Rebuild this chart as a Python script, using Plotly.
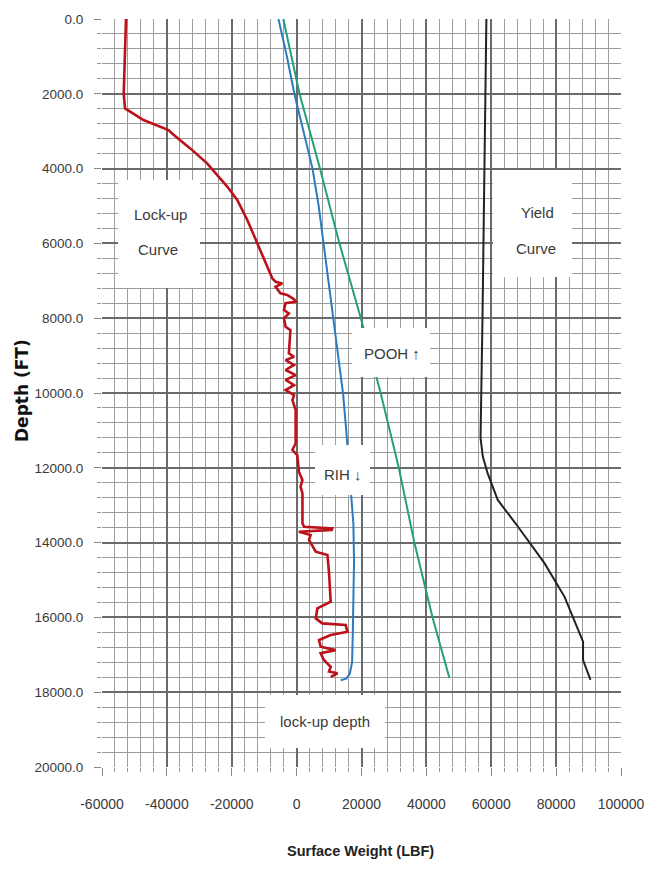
import plotly.graph_objects as go

# ---------------- data ----------------
lock_depth = [0, 1000, 2000, 2390, 2700, 2970, 3060, 3460, 3860, 4480, 4840, 5375, 6000, 6625,
              6935, 7025, 7070, 7160, 7335, 7380, 7495, 7560, 7600, 7780, 7870, 8005, 8230, 8320,
              8940, 9030, 9120, 9250, 9385, 9520, 9650, 9790, 9920, 10055, 10190, 10455, 11345,
              11525, 11660, 12105, 12330, 12505, 12685, 13485, 13575, 13620, 13660, 13710, 13800,
              13930, 14110, 14245, 14330, 14820, 15580, 15760, 16025, 16160, 16205, 16385, 16470,
              16605, 16785, 16875, 16960, 17140, 17320, 17450, 17495, 17590]
lock_load = [-52600, -52900, -53300, -52900, -47200, -39500, -38400, -32800, -27600, -21400, -18300,
             -15200, -12200, -9100, -7500, -6500, -4400, -6500, -5000, -2900, -800, -300, -3400,
             -3900, -2400, -3900, -3400, -1900, -2400, -800, -3400, -800, -3400, -300, -3400, -800,
             -3400, -800, -1300, -300, -300, -1300, 200, 700, 1800, 1200, 1800, 1800, 2300, 11000,
             10800, 700, 4300, 3800, 4900, 5900, 9500, 10000, 10500, 6400, 5900, 7900, 15100, 15700,
             10500, 6900, 7400, 12000, 7400, 8400, 10500, 10000, 12600, 10500]

rih_depth = [0, 1000, 2000, 3000, 4000, 5000, 6000, 7000, 8000, 9000, 10000, 11000, 12000, 12700,
             13500, 14500, 15500, 16500, 17200, 17500, 17640, 17680]
rih_load = [-5600, -3000, -700, 2200, 4900, 6800, 8300, 9800, 11300, 12800, 14300, 15300, 16200,
            16900, 17500, 17700, 17600, 17300, 17100, 16400, 15300, 13600]

pooh_depth = [0, 2000, 4000, 6000, 8000, 10000, 12000, 14000, 16000, 17620]
pooh_load = [-4100, 900, 7200, 13200, 19800, 25900, 31500, 36300, 41900, 47100]

yield_depth = [0, 4000, 8000, 11200, 11700, 12150, 12860, 13570, 14550, 15450, 16650, 17140, 17670]
yield_load = [58500, 58000, 57300, 56700, 57400, 58900, 62000, 68200, 76400, 82600, 88300, 88300, 90600]

x_ticks = [-60000, -40000, -20000, 0, 20000, 40000, 60000, 80000, 100000]
y_ticks = [0, 2000, 4000, 6000, 8000, 10000, 12000, 14000, 16000, 18000, 20000]

# ---------------- layout geometry (pixels) ----------------
W, H = 661, 870
L, R, T, B = 102, 621, 19, 767


def px(x):
    return (x - L) / (R - L)


def py(y):
    return (B - y) / (B - T)


FONT = "Liberation Sans, Arial"
TXT = "#3a3a3a"

fig = go.Figure()
series = [
    (lock_load, lock_depth, "#bb111a", 2.6),
    (rih_load, rih_depth, "#2b7bc0", 2.0),
    (pooh_load, pooh_depth, "#22a176", 2.0),
    (yield_load, yield_depth, "#222222", 2.0),
]
for xs, ys, col, w in series:
    fig.add_trace(go.Scatter(x=xs, y=ys, mode="lines", line=dict(color=col, width=w),
                             showlegend=False, hoverinfo="skip"))

# white label boxes: (x0, x1, y0, y1) in pixels
boxes = [
    (118, 200, 180, 288),   # Lock-up Curve
    (493, 572, 170, 277),   # Yield Curve
    (352, 430, 328, 377),   # POOH
    (315, 370, 445, 495),   # RIH
    (265, 385, 695, 748),   # lock-up depth
]
shapes = []
for x0, x1, y0, y1 in boxes:
    shapes.append(dict(type="rect", xref="paper", yref="paper", x0=px(x0), x1=px(x1),
                       y0=py(y1), y1=py(y0), fillcolor="white", line=dict(width=0),
                       layer="above"))

labels = [
    ("Lock-up", 160, 214),
    ("Curve", 158, 249),
    ("Yield", 537, 212),
    ("Curve", 536, 248),
    ("POOH ↑", 392, 353),
    ("RIH ↓", 343, 474),
    ("lock-up depth", 325, 721),
]
annotations = []
for t, x, y in labels:
    annotations.append(dict(text=t, xref="paper", yref="paper", x=px(x), y=py(y),
                            showarrow=False, xanchor="center", yanchor="middle",
                            font=dict(family=FONT, size=15, color=TXT)))

annotations.append(dict(text="<b>Surface Weight (LBF)</b>", xref="paper", yref="paper",
                        x=px(360), y=py(851), showarrow=False, xanchor="center",
                        yanchor="middle", font=dict(family=FONT, size=14.5, color="#222")))
annotations.append(dict(text="<b>Depth (FT)</b>", xref="paper", yref="paper",
                        x=px(22), y=py(391), showarrow=False, xanchor="center",
                        yanchor="middle", textangle=-90,
                        font=dict(family="DejaVu Sans", size=17, color="#111")))

fig.update_layout(
    width=W, height=H,
    margin=dict(l=L, r=W - R, t=T, b=H - B, pad=0),
    paper_bgcolor="white", plot_bgcolor="white",
    shapes=shapes, annotations=annotations,
    xaxis=dict(range=[-60000, 100000], tickvals=x_ticks, ticktext=[str(v) for v in x_ticks],
               showgrid=True, gridcolor="#6a6a6a", gridwidth=1.6, zeroline=False,
               showline=False, ticks="outside", ticklen=8, tickcolor="#888", tickwidth=1,
               ticklabelstandoff=16,
               tickfont=dict(family=FONT, size=14, color=TXT),
               minor=dict(dtick=4000, tick0=0, showgrid=True, gridcolor="#9c9c9c",
                          gridwidth=1, ticks="outside", ticklen=4, tickcolor="#999")),
    yaxis=dict(range=[20000, 0], tickvals=y_ticks, ticktext=["%.1f" % v for v in y_ticks],
               showgrid=True, gridcolor="#6a6a6a", gridwidth=1.6, zeroline=False,
               showline=False, ticks="outside", ticklen=7, tickcolor="#888", tickwidth=1,
               ticklabelstandoff=8,
               tickfont=dict(family=FONT, size=13.5, color=TXT),
               minor=dict(dtick=400, tick0=0, showgrid=True, gridcolor="#9c9c9c",
                          gridwidth=1, ticks="outside", ticklen=4, tickcolor="#999")),
)

fig.write_html("out.html")
